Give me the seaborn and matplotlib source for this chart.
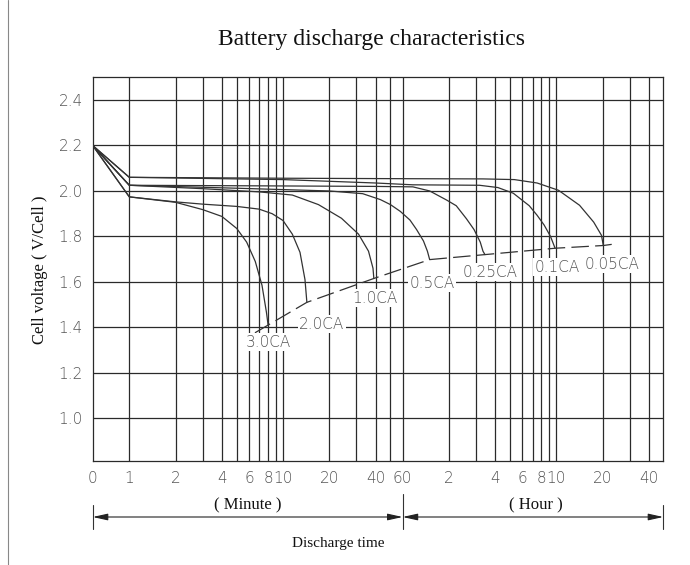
import matplotlib
matplotlib.use("Agg")
import matplotlib.pyplot as plt
import matplotlib.transforms as mtransforms
import pandas as pd
import seaborn as sns

# time axis is logarithmic in minutes; "0" sits at the left edge
T0 = 0.578

# discharge curves (time in minutes, cell voltage)
t_3ca = [T0, 1, 2, 3, 4, 5, 5.8, 6.6, 7.3, 7.8, 8.0]
v_3ca = [2.2, 1.974, 1.95, 1.918, 1.888, 1.835, 1.775, 1.69, 1.585, 1.467, 1.41]

t_2ca = [T0, 1, 2, 3, 5, 7, 8.5, 10, 11.5, 12.9, 13.9, 14.3]
v_2ca = [2.2, 1.974, 1.952, 1.942, 1.932, 1.92, 1.9, 1.87, 1.81, 1.73, 1.61, 1.51]

t_1ca = [T0, 1, 3, 7, 11.5, 17, 24, 31, 36, 38.5, 39]
v_1ca = [2.2, 2.025, 2.01, 1.996, 1.982, 1.94, 1.88, 1.81, 1.735, 1.66, 1.615]

t_05ca = [T0, 1, 5, 20, 33, 43, 50, 58, 67, 74, 82, 87, 90]
v_05ca = [2.2, 2.025, 2.012, 2.0, 1.988, 1.962, 1.94, 1.91, 1.872, 1.83, 1.78, 1.735, 1.698]

t_025ca = [T0, 1, 10, 40, 70, 90, 116, 134, 156, 175, 192, 200, 206]
v_025ca = [2.2, 2.025, 2.022, 2.02, 2.018, 2.0, 1.96, 1.935, 1.878, 1.83, 1.775, 1.735, 1.72]

t_01ca = [T0, 1, 10, 40, 70, 190, 250, 315, 400, 450, 500, 550, 589]
v_01ca = [2.2, 2.06, 2.05, 2.035, 2.027, 2.025, 2.015, 1.99, 1.935, 1.893, 1.85, 1.80, 1.748]

t_005ca = [T0, 1, 10, 60, 200, 320, 450, 620, 850, 1050, 1180, 1213]
v_005ca = [2.2, 2.06, 2.056, 2.054, 2.053, 2.05, 2.035, 2.003, 1.937, 1.863, 1.805, 1.76]

# final discharge voltage line
t_cut = [6.57, 8.0, 14.3, 39, 90, 206, 589, 1213, 1376]
v_cut = [1.376, 1.41, 1.51, 1.615, 1.698, 1.72, 1.748, 1.76, 1.765]

rate_names = ["3.0CA", "2.0CA", "1.0CA", "0.5CA", "0.25CA", "0.1CA", "0.05CA"]
label_t = [7.99, 17.9, 39.7, 93, 222, 607, 1377]
label_v = [1.335, 1.414, 1.529, 1.595, 1.643, 1.665, 1.678]

x_ticks = [T0, 1, 2, 4, 6, 8, 10, 20, 40, 60, 120, 240, 360, 480, 600, 1200, 2400]
x_tick_labels = ["0", "1", "2", "4", "6", "8", "10", "20", "40", "60",
                 "2", "4", "6", "8", "10", "20", "40"]
x_grid = [1, 2, 3, 4, 5, 6, 7, 8, 9, 10, 20, 30, 40, 50, 60,
          120, 180, 240, 300, 360, 420, 480, 540, 600, 1200, 1800, 2400]
y_ticks = [1.0, 1.2, 1.4, 1.6, 1.8, 2.0, 2.2, 2.4]

series = [(t_3ca, v_3ca), (t_2ca, v_2ca), (t_1ca, v_1ca), (t_05ca, v_05ca),
          (t_025ca, v_025ca), (t_01ca, v_01ca), (t_005ca, v_005ca)]
frames = []
for name, (t, v) in zip(rate_names, series):
    frames.append(pd.DataFrame({"time": t, "voltage": v, "rate": name}))
df = pd.concat(frames, ignore_index=True)

sns.set_theme(style="white")
plt.rcParams["font.family"] = ["DejaVu Sans"]

fig = plt.figure(figsize=(6.9, 5.65), dpi=100)
ax = fig.add_axes([92.7 / 690, 1 - 461 / 565, (663.3 - 92.7) / 690, (461 - 77.3) / 565])

ax.set_xscale("log")
ax.set_xlim(T0, 2980)
ax.set_ylim(0.812, 2.50)

grid_color = "#2a2a2a"
for g in x_grid:
    ax.axvline(g, color=grid_color, lw=0.9, zorder=1)
for g in y_ticks:
    ax.axhline(g, color=grid_color, lw=0.9, zorder=1)

sns.lineplot(data=df, x="time", y="voltage", units="rate", estimator=None,
             sort=False, color="#333333", lw=0.9, ax=ax, zorder=3, legend=False)

ax.plot(t_cut, v_cut, color="#333333", lw=0.9, dashes=(14, 5), zorder=3)

tick_font = dict(family="DejaVu Sans", fontweight="light", color="#555555")
for name, lt, lv in zip(rate_names, label_t, label_v):
    ax.text(lt, lv, name, ha="center", va="center", fontsize=11, zorder=4,
            bbox=dict(facecolor="white", edgecolor="none", pad=1.0), **tick_font)

ax.set_xticks(x_ticks)
ax.set_xticklabels(x_tick_labels, fontsize=11, **tick_font)
ax.xaxis.set_minor_locator(matplotlib.ticker.NullLocator())
ax.set_yticks(y_ticks)
ax.set_yticklabels([f"{y:.1f}" for y in y_ticks], fontsize=11, **tick_font)
ax.tick_params(length=0, pad=7)
ax.set_xlabel("")
ax.set_ylabel("")
for s in ax.spines.values():
    s.set_visible(True)
    s.set_color(grid_color)
    s.set_linewidth(0.9)

serif = ["Liberation Serif", "DejaVu Serif"]
fig.text(371.5 / 690, 1 - 39 / 565, "Battery discharge characteristics",
         ha="center", va="center", fontsize=17, family=serif, color="#111111")
fig.text(40 / 690, 1 - 270 / 565, "Cell voltage ( V/Cell )", rotation=90,
         ha="center", va="center", fontsize=12, family=serif, color="#111111")

# page border line on the left
fig.add_artist(plt.Line2D([8 / 690, 8 / 690], [0, 1], color="#888888", lw=0.8))

# minute / hour span arrows under the axis
trans = mtransforms.blended_transform_factory(ax.transData, ax.transAxes)
ya = (461 - 517) / (461 - 77.3)
arrow = dict(arrowstyle="<|-|>,head_length=0.9,head_width=0.2", color="#222222",
             lw=0.8, shrinkA=0, shrinkB=0, mutation_scale=10)
ax.annotate("", xy=(T0, ya), xytext=(60, ya), xycoords=trans, textcoords=trans,
            arrowprops=arrow, annotation_clip=False)
ax.annotate("", xy=(60, ya), xytext=(2980, ya), xycoords=trans, textcoords=trans,
            arrowprops=arrow, annotation_clip=False)
for xv, y1, y2 in [(T0, ya + 0.03, ya - 0.03), (60, ya + 0.06, ya - 0.03),
                   (2980, ya + 0.03, ya - 0.03)]:
    ax.plot([xv, xv], [y1, y2], transform=trans, color="#333333", lw=0.8, clip_on=False)

ax.text(5.9, (461 - 505) / (461 - 77.3), "( Minute )", transform=trans,
        ha="center", va="center", fontsize=12, family=serif, color="#111111")
ax.text(443, (461 - 505) / (461 - 77.3), "( Hour )", transform=trans,
        ha="center", va="center", fontsize=12, family=serif, color="#111111")
fig.text(338 / 690, 1 - 544 / 565, "Discharge time", ha="center", va="center",
         fontsize=11, family=serif, color="#111111")

fig.savefig("out.png", dpi=100, facecolor="white")
